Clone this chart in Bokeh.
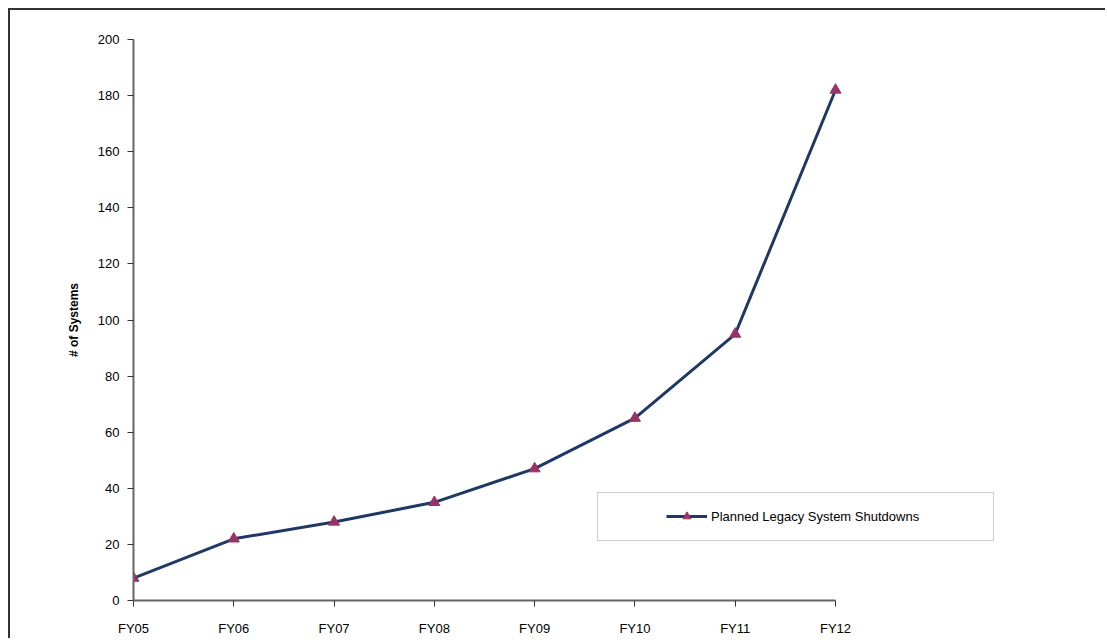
from bokeh.plotting import figure
from bokeh.models import Range1d, FixedTicker, Legend, LegendItem, BoxAnnotation
from bokeh.embed import file_html
from bokeh.resources import INLINE

categories = ["FY05", "FY06", "FY07", "FY08", "FY09", "FY10", "FY11", "FY12"]
shutdowns = [8, 22, 28, 35, 47, 65, 95, 182]
y_ticks = [0, 20, 40, 60, 80, 100, 120, 140, 160, 180, 200]

xs = list(range(len(categories)))

W, H = 1097, 630
left, top, bottom, right = 123, 29, 40, 10
frame_w = W - left - right
axis_px = 702  # pixel span from first to last category
x_end = (len(categories) - 1) * frame_w / axis_px

p = figure(width=W, height=H, output_backend="svg", toolbar_location=None,
           x_range=Range1d(0, x_end), y_range=Range1d(0, 200),
           min_border_left=left, min_border_right=right, min_border_top=top, min_border_bottom=bottom)
p.styles = {"border-top": "2px solid #333333", "border-left": "2px solid #333333",
            "margin-left": "8px", "margin-top": "8px"}
p.outline_line_color = None
p.grid.grid_line_color = None
p.background_fill_color = "white"
p.border_fill_color = "white"

line = p.line(xs, shutdowns, line_color="#1F3864", line_width=3)
pts = p.scatter(xs, shutdowns, marker="triangle", size=11, fill_color="#993366", line_color="#993366")

p.xaxis.ticker = FixedTicker(ticks=xs)
p.xaxis.bounds = (0, len(categories) - 1)
p.xaxis.major_label_overrides = {i: c for i, c in enumerate(categories)}
p.yaxis.ticker = FixedTicker(ticks=y_ticks)
p.yaxis.axis_label = "# of Systems"
p.yaxis.axis_label_text_font_style = "bold"
p.yaxis.axis_label_text_font_size = "12px"
p.yaxis.axis_label_standoff = 14

for ax in (p.xaxis, p.yaxis):
    ax.axis_line_color = "#666666"
    ax.axis_line_width = 2
    ax.major_tick_line_color = "#333333"
    ax.major_tick_line_width = 1
    ax.major_tick_out = 6
    ax.major_tick_in = 0
    ax.minor_tick_line_color = None
    ax.major_label_text_font = "Liberation Sans"
    ax.major_label_text_font_size = "13px"
    ax.major_label_text_color = "#000000"
    ax.axis_label_text_font = "Liberation Sans"
    ax.axis_label_text_color = "#000000"
p.xaxis.major_label_standoff = 14
p.yaxis.major_label_standoff = 8

box = BoxAnnotation(left=464, right=860, bottom=60, top=108,
                    left_units="screen", right_units="screen",
                    bottom_units="screen", top_units="screen",
                    fill_color="white", fill_alpha=1.0,
                    line_color="#555555", line_width=1)
p.add_layout(box)

legend = Legend(items=[LegendItem(label="Planned Legacy System Shutdowns", renderers=[line, pts])],
                location=(533, 74), orientation="vertical")
legend.label_text_font = "Liberation Sans"
legend.label_text_font_size = "13px"
legend.label_text_color = "#000000"
legend.border_line_color = None
legend.background_fill_alpha = 0.0
legend.padding = 2
legend.margin = 0
legend.glyph_width = 41
legend.glyph_height = 20
legend.label_height = 20
legend.label_standoff = 4
p.add_layout(legend)

open("out.html", "w").write(file_html(p, INLINE))
